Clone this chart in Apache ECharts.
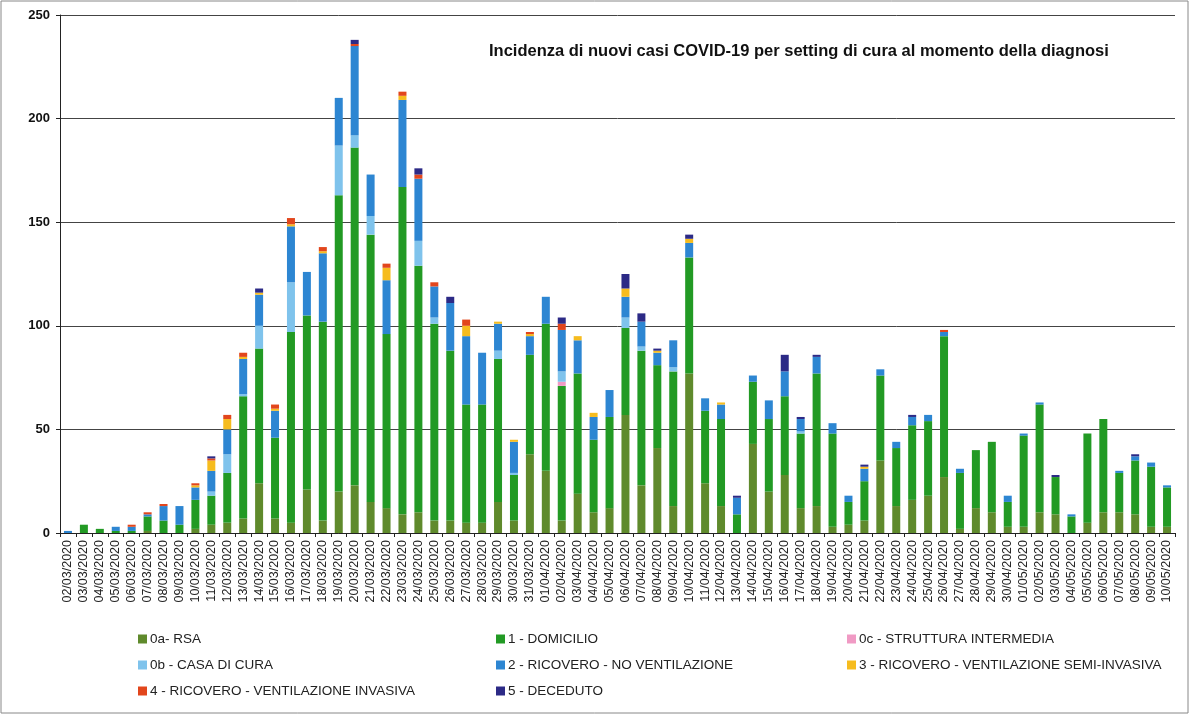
<!DOCTYPE html>
<html>
<head>
<meta charset="utf-8">
<script src="https://cdn.jsdelivr.net/npm/echarts@6/dist/echarts.min.js"></script>
<style>
html,body{margin:0;padding:0;background:#fff;}
#chart{width:1191px;height:717px;}
</style>
</head>
<body>
<div id="chart"></div>
<script>
const dates = ["02/03/2020","03/03/2020","04/03/2020","05/03/2020","06/03/2020","07/03/2020","08/03/2020","09/03/2020","10/03/2020","11/03/2020","12/03/2020","13/03/2020","14/03/2020","15/03/2020","16/03/2020","17/03/2020","18/03/2020","19/03/2020","20/03/2020","21/03/2020","22/03/2020","23/03/2020","24/03/2020","25/03/2020","26/03/2020","27/03/2020","28/03/2020","29/03/2020","30/03/2020","31/03/2020","01/04/2020","02/04/2020","03/04/2020","04/04/2020","05/04/2020","06/04/2020","07/04/2020","08/04/2020","09/04/2020","10/04/2020","11/04/2020","12/04/2020","13/04/2020","14/04/2020","15/04/2020","16/04/2020","17/04/2020","18/04/2020","19/04/2020","20/04/2020","21/04/2020","22/04/2020","23/04/2020","24/04/2020","25/04/2020","26/04/2020","27/04/2020","28/04/2020","29/04/2020","30/04/2020","01/05/2020","02/05/2020","03/05/2020","04/05/2020","05/05/2020","06/05/2020","07/05/2020","08/05/2020","09/05/2020","10/05/2020"];

const rsa = [0,0,0,0,0,1,0,0,2,4,5,7,24,7,5,21,6,20,23,15,12,9,10,6,6,5,5,15,6,38,30,6,19,10,12,57,23,41,13,77,24,13,0,43,20,28,12,13,3,4,6,35,13,16,18,27,2,12,10,3,3,10,9,0,5,10,10,9,3,3];
const domicilio = [0,4,2,1,1,7,6,4,14,14,24,59,65,39,92,84,96,143,163,129,84,158,119,95,82,57,57,69,22,48,71,65,58,35,44,42,65,40,65,56,35,42,9,30,35,38,36,64,45,11,19,41,28,36,36,68,27,28,34,12,44,52,18,8,43,45,19,26,29,19];
const strutturaIntermedia = [0,0,0,0,0,0,0,0,0,0,0,0,0,0,0,0,0,0,0,0,0,0,0,0,0,0,0,0,0,0,0,2,0,0,0,0,0,0,0,0,0,0,0,0,0,0,0,0,0,0,0,0,0,0,0,0,0,0,0,0,0,0,0,0,0,0,0,0,0,0];
const casaDiCura = [0,0,0,0,0,0,0,0,0,2,9,1,11,0,24,0,0,24,6,9,0,0,12,3,0,0,0,4,1,0,0,5,0,0,0,5,2,0,2,0,0,0,0,0,0,0,1,0,0,0,0,0,0,0,0,0,0,0,0,0,0,0,0,0,0,0,0,0,0,0];
const ricoveroNoVent = [1,0,0,2,2,1,7,9,6,10,12,17,15,13,27,21,33,23,43,20,26,42,30,15,23,33,25,13,15,9,13,20,16,11,13,10,12,6,13,7,6,7,8,3,9,12,6,8,5,3,6,3,3,4,3,2,2,0,0,3,1,1,0,1,0,0,1,2,2,1];
const ventSemiInvasiva = [0,0,0,0,0,0,0,0,1,5,5,1,1,1,1,0,1,0,0,0,6,2,0,0,0,5,0,1,1,1,0,0,2,2,0,4,0,1,0,2,0,1,0,0,0,0,0,0,0,0,1,0,0,0,0,0,0,0,0,0,0,0,0,0,0,0,0,0,0,0];
const ventInvasiva = [0,0,0,0,1,1,1,0,1,1,2,2,0,2,3,0,2,0,1,0,2,2,2,2,0,3,0,0,0,1,0,3,0,0,0,0,0,0,0,0,0,0,0,0,0,0,0,0,0,0,0,0,0,0,0,1,0,0,0,0,0,0,0,0,0,0,0,0,0,0];
const deceduto = [0,0,0,0,0,0,0,0,0,1,0,0,2,0,0,0,0,0,2,0,0,0,3,0,3,0,0,0,0,0,0,3,0,0,0,7,4,1,0,2,0,0,1,0,0,8,1,1,0,0,1,0,0,1,0,0,0,0,0,0,0,0,1,0,0,0,0,1,0,0];
const yTicks = [0,50,100,150,200,250];

const seriesNames = ["0a- RSA","1 - DOMICILIO","0c - STRUTTURA INTERMEDIA","0b - CASA DI CURA","2 - RICOVERO - NO VENTILAZIONE","3 - RICOVERO - VENTILAZIONE SEMI-INVASIVA","4 - RICOVERO - VENTILAZIONE INVASIVA","5 - DECEDUTO"];
const seriesData = [rsa, domicilio, strutturaIntermedia, casaDiCura, ricoveroNoVent, ventSemiInvasiva, ventInvasiva, deceduto];
const colors = ["#5f8a2c","#229a24","#f09ac4","#7fc3ec","#2d86d2","#f6bc1e","#e2461c","#2c2a86"];

const font = "'Liberation Sans', Arial, sans-serif";
const chart = echarts.init(document.getElementById('chart'));

const series = seriesNames.map((n, i) => ({
  name: n,
  type: 'bar',
  stack: 'tot',
  data: seriesData[i],
  barWidth: 8,
  itemStyle: { color: colors[i] },
  emphasis: { disabled: true }
}));

const legendBase = {
  orient: 'vertical',
  itemWidth: 9,
  itemHeight: 9,
  itemGap: 12,
  icon: 'rect',
  textStyle: { fontFamily: font, fontSize: 13.5, color: '#222', padding: [0,0,0,-2] },
  selectedMode: false
};

chart.setOption({
  animation: false,
  backgroundColor: '#fff',
  title: {
    text: 'Incidenza di nuovi casi COVID-19 per setting di cura al momento della diagnosi',
    left: 484, top: 38,
    textStyle: { fontFamily: font, fontSize: 16.5, fontWeight: 'bold', color: '#111' }
  },
  graphic: [{
    type: 'rect', shape: { x: 1, y: 1, width: 1187, height: 712 },
    style: { fill: 'none', stroke: '#888', lineWidth: 1 }, silent: true
  }],
  legend: [
    Object.assign({}, legendBase, { left: 133, top: 627, data: [seriesNames[0], seriesNames[3], seriesNames[6]] }),
    Object.assign({}, legendBase, { left: 491, top: 627, data: [seriesNames[1], seriesNames[4], seriesNames[7]] }),
    Object.assign({}, legendBase, { left: 842, top: 627, data: [seriesNames[2], seriesNames[5]] })
  ],
  grid: { left: 60, right: 16, top: 15, bottom: 184, containLabel: false },
  xAxis: {
    type: 'category',
    data: dates,
    axisLine: { lineStyle: { color: '#222', width: 1 } },
    axisTick: { show: true, length: 4, lineStyle: { color: '#222' } },
    axisLabel: { rotate: 90, interval: 0, fontFamily: font, fontSize: 12.5, color: '#222', margin: 7 }
  },
  yAxis: {
    type: 'value',
    min: yTicks[0], max: yTicks[yTicks.length-1], interval: 50,
    axisLine: { show: true, lineStyle: { color: '#222', width: 1 } },
    axisTick: { show: true, length: 4, lineStyle: { color: '#222' } },
    axisLabel: { fontFamily: font, fontSize: 13, fontWeight: 'bold', color: '#111', margin: 10 },
    splitLine: { lineStyle: { color: '#444', width: 1 } }
  },
  series: series
});
</script>
</body>
</html>
